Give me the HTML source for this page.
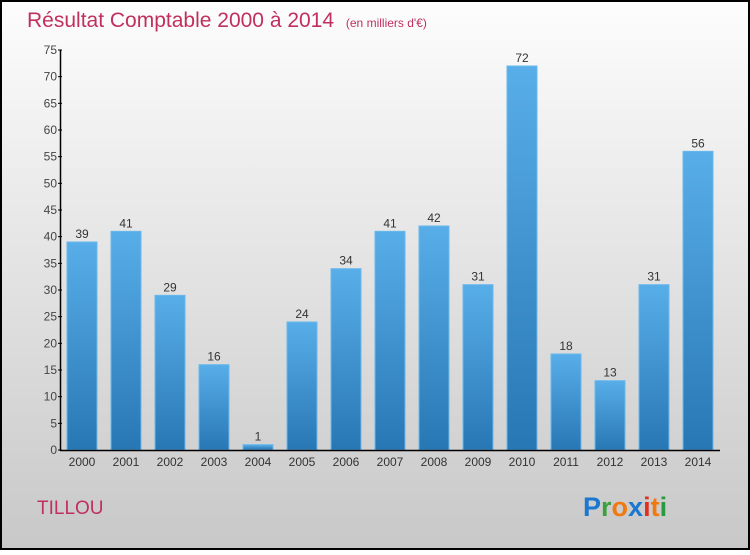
<!DOCTYPE html>
<html><head><meta charset="utf-8"><style>
html,body{margin:0;padding:0}
body{width:750px;height:550px;overflow:hidden;font-family:"Liberation Sans",sans-serif}
</style></head><body>
<svg width="750" height="550" xmlns="http://www.w3.org/2000/svg" id="svg">
<defs>
<linearGradient id="bg" x1="0" y1="0" x2="0" y2="1"><stop offset="0" stop-color="#fdfdfd"/><stop offset="1" stop-color="#c8c8c8"/></linearGradient>
<linearGradient id="bar" x1="0" y1="0" x2="0" y2="1"><stop offset="0" stop-color="#58aee8"/><stop offset="1" stop-color="#2877b5"/></linearGradient>
</defs>
<rect x="1" y="1" width="748" height="548" fill="url(#bg)" stroke="#000" stroke-width="2"/>
<text x="27" y="27" font-size="21" fill="#c0305e">Résultat Comptable 2000 à 2014 <tspan font-size="12" dx="6">(en milliers d'€)</tspan></text>
<g id="plot"></g>
<text x="37" y="514" font-size="19" fill="#c0305e">TILLOU</text>
<g font-size="27" font-weight="bold" font-family="Liberation Sans, sans-serif">
<text x="583" y="516"><tspan fill="#1a78d0">P</tspan><tspan fill="#3aa040">r</tspan><tspan fill="#f07a10">o</tspan><tspan fill="#1a78d0">x</tspan><tspan fill="#e03020">i</tspan><tspan fill="#f07a10">t</tspan><tspan fill="#2a9a40">i</tspan></text>
</g>
</svg>
<script>
const categories=["2000","2001","2002","2003","2004","2005","2006","2007","2008","2009","2010","2011","2012","2013","2014"];
const values=[39,41,29,16,1,24,34,41,42,31,72,18,13,31,56];
const yTicks=[0,5,10,15,20,25,30,35,40,45,50,55,60,65,70,75];
const NS="http://www.w3.org/2000/svg";
const g=document.getElementById('plot');
const y0=450,yTop=50,yMax=75;
const yS=v=>y0-(v/yMax)*(y0-yTop);
const xS=i=>82+i*44;
function mk(t,a,txt){const e=document.createElementNS(NS,t);for(const k in a)e.setAttribute(k,a[k]);if(txt!==undefined)e.textContent=txt;g.appendChild(e);return e;}
values.forEach((v,i)=>{
 const r=mk('rect',{x:xS(i)-15,y:yS(v),width:30,height:y0-yS(v),fill:'url(#bar)',stroke:'#6ab8ee','stroke-width':1});
 
 
 const t=mk('text',{x:xS(i),y:yS(v)-4,'text-anchor':'middle','font-size':12,fill:'#333'},String(v));
 
 
 const c=mk('text',{x:xS(i),y:466,'text-anchor':'middle','font-size':12,fill:'#333'},categories[i]);
 
 
});
yTicks.forEach(v=>{
 const l=mk('line',{x1:58,x2:62,y1:yS(v),y2:yS(v),stroke:'#000'});
 
 
 const t=mk('text',{x:57,y:yS(v)+4,'text-anchor':'end','font-size':12,fill:'#444'},String(v));
 
 
});
const ya=mk('line',{x1:60.5,x2:60.5,y1:yTop,y2:y0+1,stroke:'#000','stroke-width':1.5});


const xa=mk('line',{x1:60,x2:720,y1:y0+0.5,y2:y0+0.5,stroke:'#000','stroke-width':1.5});


</script>
</body></html>
